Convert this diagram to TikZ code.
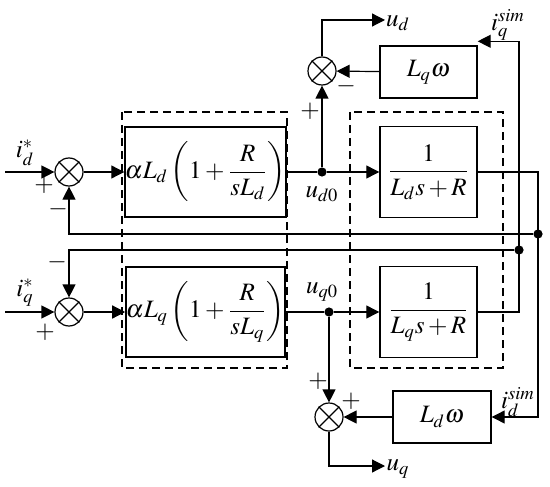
\documentclass[tikz,border=0pt]{standalone}
\usepackage{amsmath}
\usepackage{mathptmx}
\usepackage{fontspec}
\setmainfont{Liberation Serif}
\usetikzlibrary{arrows.meta}

\tikzset{
    block/.style={draw, rectangle, line width=0.7pt, inner sep=0pt},
    sumnode/.style={draw, circle, minimum size=14pt, inner sep=0pt},
    dot/.style={circle, fill, inner sep=0pt, minimum size=4.6pt},
    arr/.style={-{Triangle[length=6.5pt,width=6.5pt]}},
    dashbox/.style={draw, dash pattern=on 4pt off 2.5pt},
    lbl/.style={inner sep=0.5pt}
}

\begin{document}
\begin{tikzpicture}[x=0.5pt, y=-0.5pt, line width=0.6pt, font=\fontsize{12.5}{15}\selectfont]
    \useasboundingbox (0,0) rectangle (550,486);

    % Dashed groups
    \draw[dashbox] (122,112) rectangle (287,368);
    \draw[dashbox] (350,112) rectangle (503,368);

    % Current controllers
    \node[block, minimum width=72.5pt, minimum height=45pt] (pid) at (205.5,172) {$\alpha L_d\left(1+\dfrac{R}{sL_d}\right)$};
    \node[block, minimum width=72.5pt, minimum height=45pt] (piq) at (205.5,312) {$\alpha L_q\left(1+\dfrac{R}{sL_q}\right)$};

    % Plant
    \node[block, minimum width=48.5pt, minimum height=45.5pt] (plantd) at (428.5,172) {$\dfrac{1}{L_d s+R}$};
    \node[block, minimum width=48.5pt, minimum height=45.5pt] (plantq) at (428.5,312) {$\dfrac{1}{L_q s+R}$};

    % Cross coupling
    \node[block, minimum width=48.5pt, minimum height=26pt] (cplq) at (428.5,72) {$L_q\omega$};
    \node[block, minimum width=49pt, minimum height=26pt] (cpld) at (442,417) {$L_d\omega$};

    % Summing junctions
    \node[sumnode] (sumd) at (69,172) {};
    \node[sumnode] (sumq) at (69,312) {};
    \node[sumnode] (sumud) at (322,71) {};
    \node[sumnode] (sumuq) at (329,417) {};
    \foreach \s in {sumd,sumq,sumud,sumuq} {
        \draw (\s.north east) -- (\s.south west) (\s.north west) -- (\s.south east);
    }

    % Branch points
    \node[dot] (ud0) at (322,172) {};
    \node[dot] (uq0) at (329,312) {};
    \node[dot] (jd) at (538,234) {};
    \node[dot] (jq) at (519,250) {};

    % Ends and corners
    \coordinate (ind) at (5,172);
    \coordinate (inq) at (5,312);
    \coordinate (outd) at (385,20);
    \coordinate (outq) at (385,466);
    \coordinate (cd) at (538,172);
    \coordinate (cq) at (519,312);

    % Labels
    \node[lbl] (lidref) at (25,153) {$i_d^*$};
    \node[lbl] (liqref) at (25,293) {$i_q^*$};
    \node[lbl] (lud) at (398,23) {$u_d$};
    \node[lbl] (luq) at (398,469) {$u_q$};
    \node[lbl] (lud0) at (322,194) {$u_{d0}$};
    \node[lbl] (luq0) at (322,292) {$u_{q0}$};
    \node[lbl] (liqsim) at (508,25) {$i_q^{sim}$};
    \node[lbl] (lidsim) at (518,402) {$i_d^{sim}$};

    % Signs
    \foreach \x/\y/\s [count=\k] in {44/185/+, 58/209/-, 57/262/-, 45/332/+, 310/111/+, 346/86/-, 318/381/+, 351/401/+} {
        \node[lbl] (sign\k) at (\x,\y) {$\s$};
    }

    % Connections
    \draw[arr] (ind) -- (sumd);
    \draw[arr] (inq) -- (sumq);
    \draw[arr] (sumd) -- (pid);
    \draw[arr] (sumq) -- (piq);
    \draw (pid) -- (ud0);
    \draw (piq) -- (uq0);
    \draw[arr] (ud0) -- (plantd);
    \draw[arr] (uq0) -- (plantq);
    \draw[arr] (ud0) -- (sumud);
    \draw[arr] (uq0) -- (sumuq);
    \draw[arr] (cplq) -- (sumud);
    \draw[arr] (cpld) -- (sumuq);
    \draw[arr] (sumud) |- (outd);
    \draw[arr] (sumuq) |- (outq);
    \draw[arr] (plantd) -- (cd) |- (cpld);
    \draw[arr] (plantq) -- (cq) |- ([yshift=2pt]cplq.north east);
    \draw[arr] (jd) -| (sumd);
    \draw[arr] (jq) -| (sumq);
\end{tikzpicture}
\end{document}
